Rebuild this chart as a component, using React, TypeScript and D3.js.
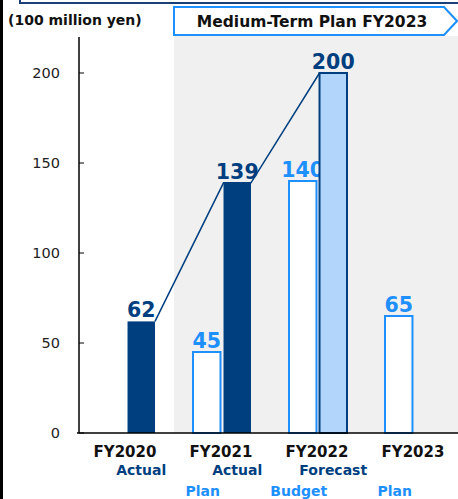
import React from "react";
import * as d3 from "d3";

const categories = ["FY2020", "FY2021", "FY2022", "FY2023"];
const planValues: (number | null)[] = [null, 45, 140, 65];
const actualValues: (number | null)[] = [62, 139, 200, null];
const actualLabels = ["Actual", "Actual", "Forecast", ""];
const planLabels = ["", "Plan", "Budget", "Plan"];
const yTicks = [0, 50, 100, 150, 200];
const unitLabel = "(100 million yen)";
const bannerLabel = "Medium-Term Plan FY2023";

const W = 458;
const H = 499;
const NAVY = "#003f7f";
const BLUE = "#1e8fff";
const LIGHT = "#b2d6fb";
const GRAY = "#f0f0f0";
const FONT = "'DejaVu Sans', Verdana, sans-serif";

export default function App() {
  const x = d3.scaleBand<string>().domain(categories).range([77, 461]);
  const inner = d3.scaleBand<string>().domain(["plan", "actual"]).range([20, 78]).paddingInner(0.1);
  const y = d3.scaleLinear().domain([0, 220]).range([433, 37]);
  const bw = inner.bandwidth();

  const linePts: [number, number][] = [];
  actualValues.forEach((v, i) => {
    if (v == null) return;
    const x0 = (x(categories[i]) as number) + (inner("actual") as number);
    linePts.push([x0, y(v)]);
    linePts.push([x0 + bw, y(v)]);
  });
  const lineD = d3.line()(linePts.slice(1, -1)) || "";

  return (
    <svg width={W} height={H} style={{ position: "absolute", left: 0, top: 0, fontFamily: FONT }}>
      <rect x={0} y={0} width={W} height={H} fill="#fff" />
      {/* gray shaded plan area */}
      <rect x={174} y={36} width={W - 174} height={433 - 36} fill={GRAY} />
      {/* top box edge */}
      <rect x={20} y={-10} width={460} height={13} fill="#fff" stroke="#1b3f78" strokeWidth={2} />
      {/* left border */}
      <rect x={0} y={0} width={3} height={H} fill="#000" />
      {/* banner */}
      <path d="M174,7 L444,7 L457,21 L444,35 L174,35 Z" fill="#fff" stroke={BLUE} strokeWidth={2} />
      <text x={312} y={26.5} textAnchor="middle" fontSize={15.5} fontWeight="bold" fill="#111">
        {bannerLabel}
      </text>
      <text x={8} y={25} fontSize={14} fontWeight="bold" fill="#111">
        {unitLabel}
      </text>

      {/* y axis */}
      <line x1={79} x2={79} y1={37} y2={433} stroke="#000" strokeWidth={1.5} />
      {yTicks.map((t) => (
        <g key={t}>
          <line x1={79} x2={84} y1={y(t)} y2={y(t)} stroke="#000" strokeWidth={1} />
          <text x={60} y={y(t) + 5} textAnchor="end" fontSize={14.5} fill="#222">
            {t}
          </text>
        </g>
      ))}

      {/* bars */}
      {categories.map((c, i) => {
        const cx = x(c) as number;
        const p = planValues[i];
        const a = actualValues[i];
        const isForecast = actualLabels[i] === "Forecast";
        return (
          <g key={c}>
            {p != null && (
              <g>
                <rect
                  x={cx + (inner("plan") as number)}
                  y={y(p)}
                  width={bw}
                  height={y(0) - y(p)}
                  fill="#fff"
                  stroke={BLUE}
                  strokeWidth={2}
                />
                <text
                  x={cx + (inner("plan") as number) + bw / 2}
                  y={y(p) - 4}
                  textAnchor="middle"
                  fontSize={20.5}
                  fontWeight="bold"
                  fill={BLUE}
                >
                  {p}
                </text>
              </g>
            )}
            {a != null && (
              <g>
                <rect
                  x={cx + (inner("actual") as number)}
                  y={y(a)}
                  width={bw}
                  height={y(0) - y(a)}
                  fill={isForecast ? LIGHT : NAVY}
                  stroke={NAVY}
                  strokeWidth={isForecast ? 2 : 0}
                />
                <text
                  x={cx + (inner("actual") as number) + bw / 2}
                  y={y(a) - 4}
                  textAnchor="middle"
                  fontSize={20.5}
                  fontWeight="bold"
                  fill={NAVY}
                >
                  {a}
                </text>
              </g>
            )}
          </g>
        );
      })}

      <path d={lineD} fill="none" stroke={NAVY} strokeWidth={1.5} />

      {/* x axis */}
      <line x1={77} x2={W} y1={433} y2={433} stroke="#000" strokeWidth={1.5} />
      {categories.map((c, i) => {
        const cx = x(c) as number;
        return (
          <g key={c}>
            <text x={cx + x.bandwidth() / 2} y={457} textAnchor="middle" fontSize={15} fontWeight="bold" fill="#111">
              {c}
            </text>
            {actualLabels[i] && (
              <text
                x={cx + (inner("actual") as number) + bw / 2}
                y={475}
                textAnchor="middle"
                fontSize={14}
                fontWeight="bold"
                fill={NAVY}
              >
                {actualLabels[i]}
              </text>
            )}
            {planLabels[i] && (
              <text
                x={cx + (inner("plan") as number) + bw / 2 - 4}
                y={496}
                textAnchor="middle"
                fontSize={14}
                fontWeight="bold"
                fill={BLUE}
              >
                {planLabels[i]}
              </text>
            )}
          </g>
        );
      })}
    </svg>
  );
}
